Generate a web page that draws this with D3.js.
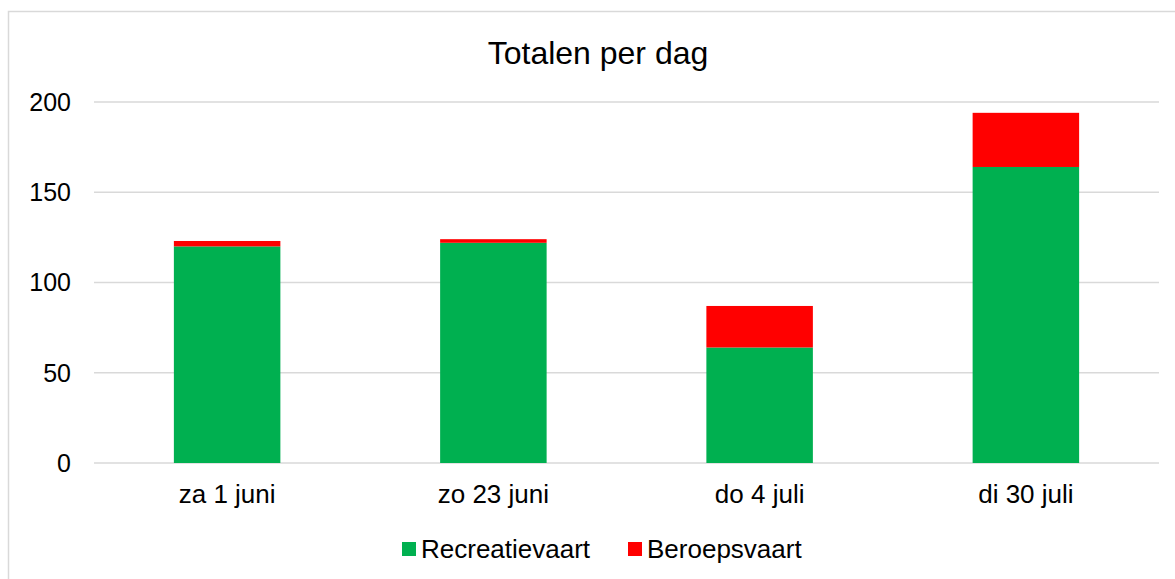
<!DOCTYPE html>
<html>
<head>
<meta charset="utf-8">
<script src="https://cdn.jsdelivr.net/npm/d3@7"></script>
<style>
	body { margin: 0; background: #fff; }
	text { font-family: Arial, "Liberation Sans", sans-serif; fill: #000; }
</style>
</head>
<body>
<svg id="chart" width="1175" height="579"></svg>
<script>
var days = ['za 1 juni', 'zo 23 juni', 'do 4 juli', 'di 30 juli'];
var recreatievaart = [120, 122, 64, 164];
var beroepsvaart = [3, 2, 23, 30];
var seriesNames = ['Recreatievaart', 'Beroepsvaart'];
var seriesColors = ['#00b050', '#ff0000'];
var yTicks = [0, 50, 100, 150, 200];

var svg = d3.select('#chart');
var margin = {left: 94, right: 16, top: 102, bottom: 116};
var width = +svg.attr('width'), height = +svg.attr('height');

// chart frame
svg.append('rect')
	.attr('x', 8.5).attr('y', 11.5)
	.attr('width', 1180).attr('height', 600)
	.attr('fill', 'none')
	.attr('stroke', '#d9d9d9')
	.attr('stroke-width', 1.5);

var x = d3.scaleBand()
	.domain(days)
	.range([margin.left, width - margin.right])
	.paddingInner(0.6)
	.paddingOuter(0.3);

var y = d3.scaleLinear()
	.domain([0, 200])
	.range([height - margin.bottom, margin.top]);

// gridlines
svg.append('g').selectAll('line').data(yTicks).enter().append('line')
	.attr('x1', margin.left).attr('x2', width - margin.right)
	.attr('y1', d => y(d)).attr('y2', d => y(d))
	.attr('stroke', '#d9d9d9')
	.attr('stroke-width', 1.5);

// y labels
svg.append('g').selectAll('text').data(yTicks).enter().append('text')
	.attr('x', 71).attr('y', d => y(d))
	.attr('dy', '0.35em')
	.attr('text-anchor', 'end')
	.style('font-size', '25px')
	.text(d => d);

var table = days.map((d, i) => ({day: d, Recreatievaart: recreatievaart[i], Beroepsvaart: beroepsvaart[i]}));
var stacked = d3.stack().keys(seriesNames)(table);

svg.append('g').selectAll('g').data(stacked).enter().append('g')
	.attr('fill', (d, i) => seriesColors[i])
	.selectAll('rect').data(d => d).enter().append('rect')
		.attr('x', d => x(d.data.day))
		.attr('width', x.bandwidth())
		.attr('y', d => y(d[1]))
		.attr('height', d => y(d[0]) - y(d[1]));

// category labels
svg.append('g').selectAll('text').data(days).enter().append('text')
	.attr('x', d => x(d) + x.bandwidth() / 2)
	.attr('y', 503)
	.attr('text-anchor', 'middle')
	.style('font-size', '26px')
	.text(d => d);

// title
svg.append('text')
	.attr('x', 598).attr('y', 64)
	.attr('text-anchor', 'middle')
	.style('font-size', '32px')
	.text('Totalen per dag');

// legend
var legendX = [402, 628];
var legend = svg.append('g').selectAll('g').data(seriesNames).enter().append('g')
	.attr('transform', (d, i) => 'translate(' + legendX[i] + ',0)');
legend.append('rect')
	.attr('x', 0).attr('y', 542)
	.attr('width', 14).attr('height', 14)
	.attr('fill', (d, i) => seriesColors[i]);
legend.append('text')
	.attr('x', 19).attr('y', 558)
	.style('font-size', '26px')
	.text(d => d);
</script>
</body>
</html>
